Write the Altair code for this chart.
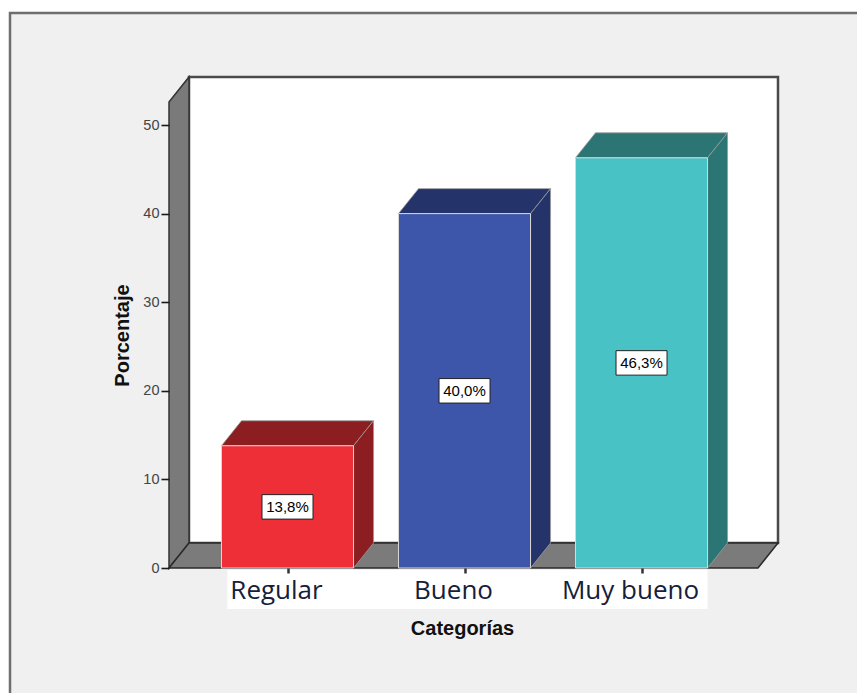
import altair as alt
import pandas as pd

# ---- data ----
categories = ["Regular", "Bueno", "Muy bueno"]
percentages = [13.8, 40.0, 46.3]
value_labels = ["13,8%", "40,0%", "46,3%"]
front_colors = ["#ee2f37", "#3e56a9", "#48c2c5"]
side_colors = ["#8c1d21", "#25336b", "#2b7674"]
y_ticks = [0, 10, 20, 30, 40, 50]

# ---- layout / 3D style parameters (scale units) ----
positions = [1, 2, 3]
HALF = 0.373          # half bar width
DX = 0.113            # depth offset along x
DY = 2.82             # depth offset along y
X_MIN, X_MAX = 0.3305, 3.771
Y_MAX = 55.42
W, H = 609, 491

xs = alt.Scale(domain=[X_MIN, X_MAX], nice=False, zero=False)
ys = alt.Scale(domain=[0, Y_MAX], nice=False, zero=False)

xaxis = alt.Axis(
    values=positions, labels=False, domain=False, grid=False, tickSize=5,
    tickColor="#333", tickWidth=2.5, title="Categorías", titleFont="Liberation Sans",
    titleFontSize=20, titleFontWeight="bold", titleColor="#111",
    titleX=293, titleY=60, titleAlign="center", titleBaseline="middle", zindex=2)
yaxis = alt.Axis(
    values=y_ticks, domain=False, grid=False, tickSize=8, tickColor="#1a1a1a", tickWidth=1.6,
    labelFont="Liberation Sans", labelFontSize=14.5, labelColor="#444", labelPadding=2,
    title="Porcentaje", titleFont="Liberation Sans", titleFontSize=20,
    titleFontWeight="bold", titleColor="#111", titleAngle=-90,
    titleX=-47, titleY=258, titleAlign="center", titleBaseline="middle", zindex=2)


def X(field):
    return alt.X(field, scale=xs, axis=xaxis, title="Categorías")


def Y(field):
    return alt.Y(field, scale=ys, axis=yaxis, title="Porcentaje")


# bars table
bars = pd.DataFrame({
    "cat": categories,
    "pos": positions,
    "v": percentages,
    "label": value_labels,
})
bars["x0"] = bars["pos"] - HALF
bars["x1"] = bars["pos"] + HALF
bars["mid"] = bars["v"] / 2

# 3D faces (top + side) derived from values
rows = []
for c, p, v in zip(categories, positions, percentages):
    x0, x1 = p - HALF, p + HALF
    rows += [
        {"cat": c, "face": c + "-top", "x": x0, "y": v, "y2": v},
        {"cat": c, "face": c + "-top", "x": x0 + DX, "y": v + DY, "y2": v},
        {"cat": c, "face": c + "-top", "x": x1, "y": v + DY, "y2": v},
        {"cat": c, "face": c + "-top", "x": x1 + DX, "y": v + DY, "y2": v + DY},
        {"cat": c, "face": c + "-side", "x": x1, "y": v, "y2": 0},
        {"cat": c, "face": c + "-side", "x": x1 + DX, "y": v + DY, "y2": DY},
    ]
faces = pd.DataFrame(rows)

# walls
back = pd.DataFrame({"x": [X_MIN + DX], "x2": [X_MAX], "y": [DY], "y2": [Y_MAX]})
left_wall = pd.DataFrame({"x": [X_MIN, X_MIN + DX], "y": [Y_MAX - DY, Y_MAX], "y2": [0, DY]})
floor = pd.DataFrame({"x": [X_MIN, X_MIN + DX, X_MAX - DX, X_MAX],
                      "y": [0, DY, DY, DY], "y2": [0, 0, 0, DY]})
one = pd.DataFrame({"k": [0]})

frame = alt.Chart(one).mark_rect(fill="#f0f0f0", stroke="#6e6e6e", strokeWidth=2.5).encode(
    x=alt.value(-159), x2=alt.value(720), y=alt.value(-64), y2=alt.value(700)
)

back_wall = alt.Chart(back).mark_rect(fill="white", stroke="#4a4a4a", strokeWidth=2.5).encode(
    x=X("x:Q"), x2="x2:Q", y=Y("y:Q"), y2="y2:Q",
)

lwall = alt.Chart(left_wall).mark_area(fill="#7a7a7a", stroke="#333", strokeWidth=1.5, opacity=1).encode(
    x=X("x:Q"), y=Y("y:Q"), y2="y2:Q",
)

flr = alt.Chart(floor).mark_area(fill="#7b7b7b", stroke="#2a2a2a", strokeWidth=1.5, opacity=1).encode(
    x=X("x:Q"), y=Y("y:Q"), y2="y2:Q",
)

depth = alt.Chart(faces).mark_area(stroke="#9a9a9a", strokeWidth=0.8, opacity=1).encode(
    x=X("x:Q"), y=Y("y:Q"), y2="y2:Q",
    color=alt.Color("cat:N", scale=alt.Scale(domain=categories, range=side_colors), legend=None),
    detail="face:N",
)

front = alt.Chart(bars).mark_rect(stroke="#d8d8d8", strokeWidth=1).encode(
    x=X("x0:Q"), x2="x1:Q", y=Y("v:Q"), y2=alt.datum(0),
    fill=alt.Fill("cat:N", scale=alt.Scale(domain=categories, range=front_colors), legend=None),
)

boxes = alt.Chart(bars).mark_point(
    shape="M-1,-0.48L1,-0.48L1,0.48L-1,0.48Z", size=2601, filled=True,
    fill="white", stroke="#222", strokeWidth=1, opacity=1
).encode(
    x=X("pos:Q"), y=Y("mid:Q"),
)

vtext = alt.Chart(bars).mark_text(font="Liberation Sans", fontSize=15, color="black").encode(
    x=X("pos:Q"), y=Y("mid:Q"), text="label:N",
)

label_bg = alt.Chart(pd.DataFrame({"a": [positions[0] - 0.34], "b": [positions[-1] + HALF]})).mark_rect(
    fill="white"
).encode(
    x=X("a:Q"), x2="b:Q",
    y=alt.value(493), y2=alt.value(532),
)

cat_text = alt.Chart(bars).mark_text(
    font="Open Sans", fontSize=26, color="#15203a", baseline="alphabetic", dx=-11
).encode(
    x=X("pos:Q"),
    y=alt.value(522),
    text="cat:N",
)

chart = alt.layer(
    frame, back_wall, lwall, flr, depth, front, boxes, vtext, label_bg, cat_text
).properties(
    width=W, height=H,
    autosize=alt.AutoSizeParams(type="none"),
    padding={"left": 169, "top": 77, "right": 79, "bottom": 125},
    background="white",
).configure_view(stroke=None)

chart.save("out.html", embed_options={"renderer": "svg", "actions": False})
